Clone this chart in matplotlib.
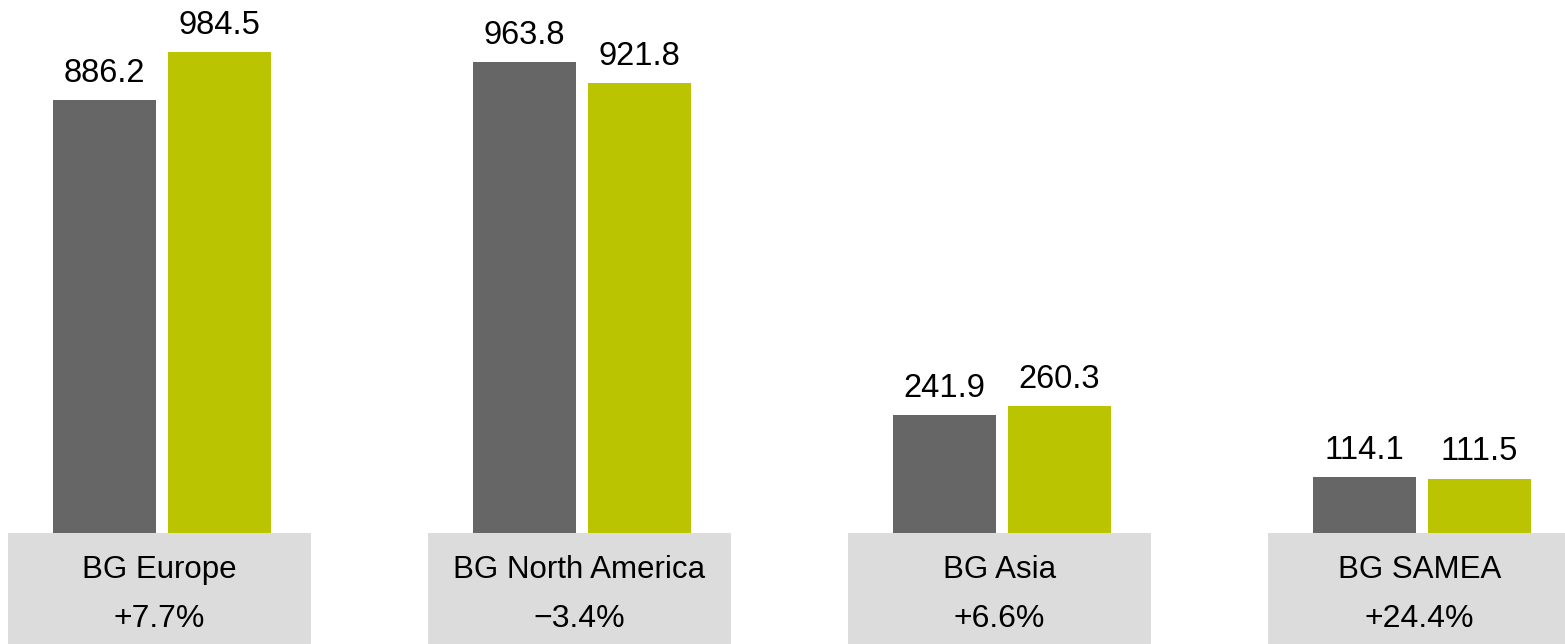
import matplotlib
matplotlib.use("Agg")
import matplotlib.pyplot as plt
import matplotlib.patches as mpatches
import numpy as np

plt.rcParams['font.family'] = ['Liberation Sans', 'DejaVu Sans']

# data
regions = ['BG Europe', 'BG North America', 'BG Asia', 'BG SAMEA']
changes = ['+7.7%', '\u22123.4%', '+6.6%', '+24.4%']
prev_year = [886.2, 963.8, 241.9, 114.1]
curr_year = [984.5, 921.8, 260.3, 111.5]

grey = '#666666'
green = '#bac400'
box_color = '#dcdcdc'

fig = plt.figure(figsize=(15.65, 6.44), dpi=100)
ax = fig.add_axes([0, 0, 1, 1])

x = np.arange(len(regions))
bar_width = 0.246
offset = 0.137

b1 = ax.bar(x - offset, prev_year, bar_width, color=grey)
b2 = ax.bar(x + offset, curr_year, bar_width, color=green)

# value labels
for bars, vals in ((b1, prev_year), (b2, curr_year)):
	for rect, v in zip(bars, vals):
		ax.annotate('{:.1f}'.format(v), xy=(rect.get_x() + rect.get_width() / 2, v),
			xytext=(0, 13), textcoords='offset points', ha='center', va='baseline', fontsize=23.5)

# grey boxes under each group
box_w = 0.7214
for i, (name, chg) in enumerate(zip(regions, changes)):
	cx = i - 0.006
	ax.add_patch(mpatches.Rectangle((cx - box_w / 2, -400), box_w, 400, color=box_color, lw=0, zorder=0))
	ax.annotate(name, xy=(cx, 0), xytext=(0, -32.4), textcoords='offset points',
		ha='center', va='baseline', fontsize=22.5)
	ax.annotate(chg, xy=(cx, 0), xytext=(0, -67.7), textcoords='offset points',
		ha='center', va='baseline', fontsize=23)

ax.set_xlim(-0.3857, 3.3405)
ax.set_ylim(-227.2, 1090.9)
ax.axis('off')

plt.savefig('out.png', dpi=100)
